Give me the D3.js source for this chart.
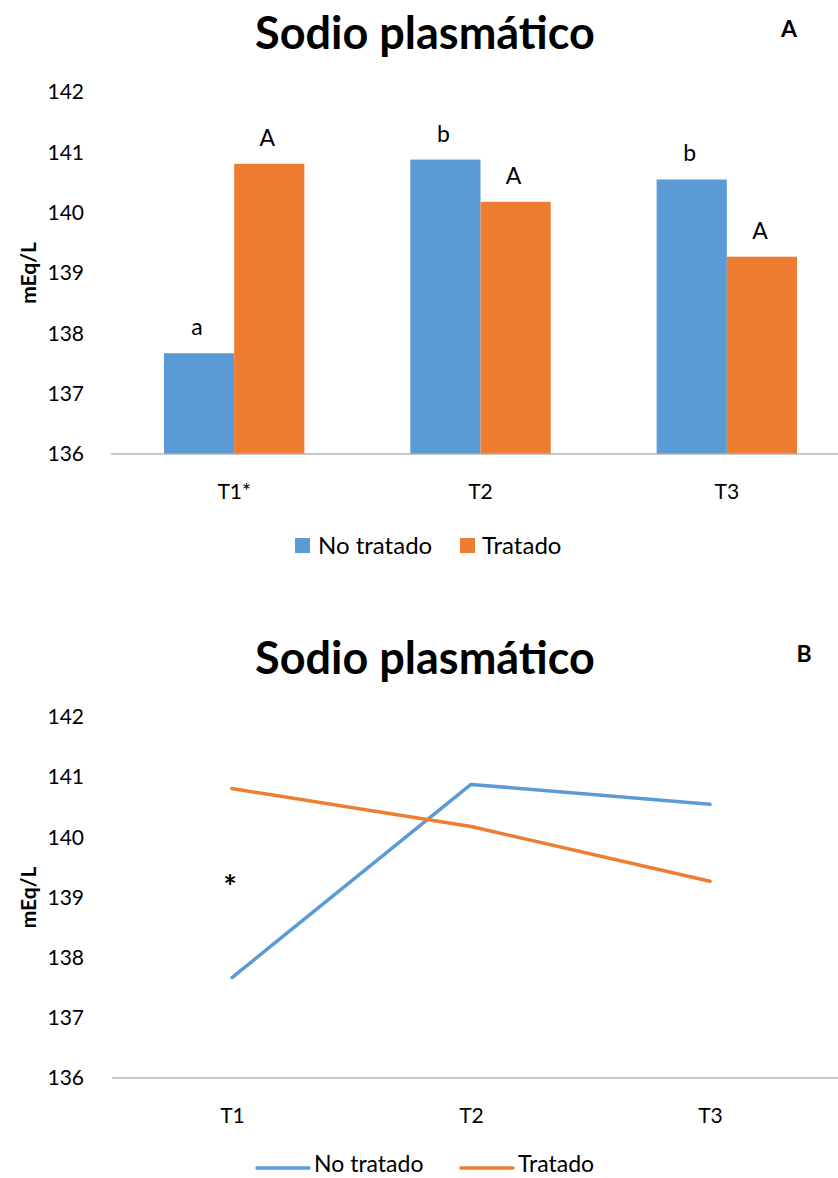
<!DOCTYPE html>
<html>
<head>
<meta charset="utf-8">
<script src="https://cdn.jsdelivr.net/npm/d3@7"></script>
<style>
  body { margin: 0; background: #fff; }
  svg text { font-family: Lato, "Open Sans", sans-serif; fill: #000; }
</style>
</head>
<body>
<div id="chart"></div>
<script>
// data
const categoriesA = ["T1*", "T2", "T3"];
const categoriesB = ["T1", "T2", "T3"];
const seriesNames = ["No tratado", "Tratado"];
const noTratado = [137.67, 140.88, 140.55];
const tratado = [140.81, 140.18, 139.27];
const lettersNoTratado = ["a", "b", "b"];
const lettersTratado = ["A", "A", "A"];
const yTicks = [136, 137, 138, 139, 140, 141, 142];

const colors = ["#5B9BD5", "#ED7D31"];
const W = 838, H = 1178;

const svg = d3.select("#chart").append("svg")
    .attr("width", W)
    .attr("height", H);

// shared pieces for both panels
function drawFrame(g, top, bottom, title, letter, letterX, titleY) {
    let y = d3.scaleLinear().domain([136, 142]).range([bottom, top]);

    g.append("text")
        .attr("x", 425).attr("y", titleY)
        .attr("text-anchor", "middle")
        .style("font-size", "45px").style("font-weight", "bold")
        .text(title);

    g.append("text")
        .attr("x", letterX).attr("y", titleY - 12)
        .attr("text-anchor", "middle")
        .style("font-size", "23px").style("font-weight", "bold")
        .text(letter);

    // y axis labels, no axis line
    let yAxis = g.append("g")
        .attr("transform", "translate(84,0)")
        .call(d3.axisLeft(y).tickValues(yTicks).tickSize(0).tickPadding(0).tickFormat(d3.format("d")));
    yAxis.select(".domain").remove();
    yAxis.selectAll("text").style("font-size", "21px").style("font-family", "Lato, sans-serif");

    g.append("text")
        .attr("transform", `translate(36,${(top + bottom) / 2}) rotate(-90)`)
        .attr("text-anchor", "middle")
        .style("font-size", "21px").style("font-weight", "bold")
        .text("mEq/L");

    return y;
}

// ---- panel A: bars ----
let gA = svg.append("g");
let yA = drawFrame(gA, 92, 454, "Sodio plasmático", "A", 789, 49);

let xA = d3.scaleBand().domain(categoriesA).range([111, 850]).paddingInner(0.43).paddingOuter(0.215);
let xSub = d3.scaleBand().domain(seriesNames).range([0, xA.bandwidth()]);

let barData = [];
categoriesA.forEach((c, i) => {
    barData.push({cat: c, s: seriesNames[0], v: noTratado[i], l: lettersNoTratado[i]});
    barData.push({cat: c, s: seriesNames[1], v: tratado[i], l: lettersTratado[i]});
});

gA.selectAll("rect.bar").data(barData).enter().append("rect")
    .attr("class", "bar")
    .attr("x", d => xA(d.cat) + xSub(d.s))
    .attr("width", xSub.bandwidth())
    .attr("y", d => yA(d.v))
    .attr("height", d => yA(136) - yA(d.v))
    .attr("fill", d => colors[seriesNames.indexOf(d.s)]);

gA.selectAll("text.sig").data(barData).enter().append("text")
    .attr("class", "sig")
    .attr("x", d => xA(d.cat) + xSub(d.s) + xSub.bandwidth() / 2 - 2)
    .attr("y", d => yA(d.v) - 18)
    .attr("text-anchor", "middle")
    .style("font-size", "23px")
    .text(d => d.l);

let xAxisA = gA.append("g")
    .attr("transform", `translate(0,${yA(136)})`)
    .call(d3.axisBottom(xA).tickSize(0).tickPadding(26));
xAxisA.select(".domain").attr("stroke", "#b3b3b3").attr("stroke-width", 1.5)
    .attr("d", "M111,0H838");
xAxisA.selectAll("text").style("font-size", "21px").style("font-family", "Lato, sans-serif").attr("dy", "0.9em");

// legend A
let legA = gA.append("g").attr("transform", "translate(0,546)");
[[295, 318], [460, 482]].forEach((p, i) => {
    legA.append("rect").attr("x", p[0]).attr("y", -8).attr("width", 15).attr("height", 15).attr("fill", colors[i]);
    legA.append("text").attr("x", p[1]).attr("y", 0).attr("dy", "0.35em")
        .style("font-size", "24px").text(seriesNames[i]);
});

// ---- panel B: lines ----
let gB = svg.append("g");
let yB = drawFrame(gB, 717, 1078, "Sodio plasmático", "B", 804, 674);

let xB = d3.scalePoint().domain(categoriesB).range([232, 710]);

let line = d3.line()
    .x((d, i) => xB(categoriesB[i]))
    .y(d => yB(d));

[noTratado, tratado].forEach((vals, i) => {
    gB.append("path")
        .datum(vals)
        .attr("d", line)
        .attr("fill", "none")
        .attr("stroke", colors[i])
        .attr("stroke-width", 3.5)
        .attr("stroke-linecap", "round")
        .attr("stroke-linejoin", "round");
});

gB.append("text")
    .attr("x", xB("T1") - 2).attr("y", 899)
    .attr("text-anchor", "middle")
    .style("font-size", "32px").style("font-weight", "bold")
    .text("*");

let xAxisB = gB.append("g")
    .attr("transform", `translate(0,${yB(136)})`)
    .call(d3.axisBottom(xB).tickSize(0).tickPadding(26));
xAxisB.select(".domain").attr("stroke", "#b3b3b3").attr("stroke-width", 1.5)
    .attr("d", "M112,0H838");
xAxisB.selectAll("text").style("font-size", "21px").style("font-family", "Lato, sans-serif").attr("dy", "0.9em");

// legend B
let legB = gB.append("g").attr("transform", "translate(0,1168)");
[[257, 314], [461, 518]].forEach((p, i) => {
    legB.append("line").attr("x1", p[0]).attr("x2", p[0] + 52).attr("y1", 0).attr("y2", 0)
        .attr("stroke", colors[i]).attr("stroke-width", 3.5).attr("stroke-linecap", "round");
    legB.append("text").attr("x", p[1]).attr("y", 4)
        .style("font-size", "23px").text(seriesNames[i]);
});
</script>
</body>
</html>
